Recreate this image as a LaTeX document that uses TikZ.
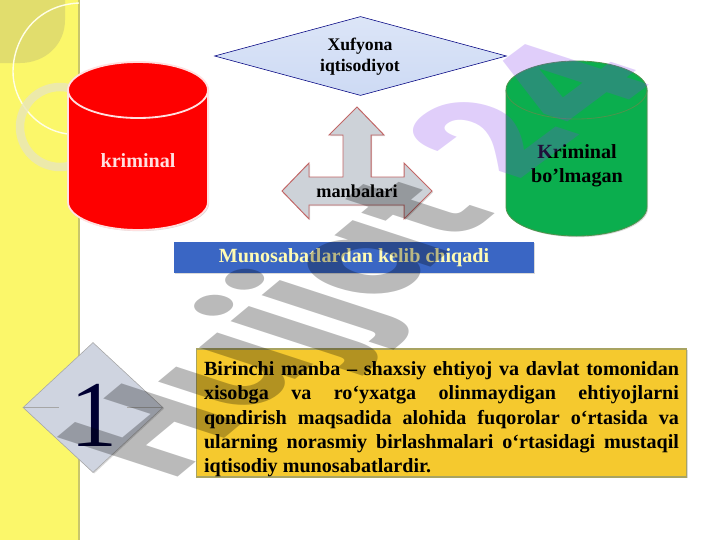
\documentclass[tikz,border=0pt]{standalone}
\usepackage{fontspec}
\setmainfont{Liberation Serif}
\newfontfamily\marksf{Poppins}
\usepackage{tikz}
\usetikzlibrary{shapes.geometric, shadows, positioning, calc}
\definecolor{sideyellow}{HTML}{FBF76A}
\definecolor{sideedge}{HTML}{C9C66A}
\definecolor{barblue}{HTML}{3A66C4}
\definecolor{goldbox}{HTML}{F5C92E}
\definecolor{cylgreen}{HTML}{0BAE4E}
\definecolor{cylred}{HTML}{FE0000}
\definecolor{diamblue}{HTML}{CDDAF4}
\definecolor{arrowgray}{HTML}{CDD2D8}
\definecolor{numgray}{HTML}{CFD4E0}
\definecolor{markviolet}{RGB}{130,60,235}
\tikzset{
  softshadow/.style={drop shadow={opacity=0.3, shadow xshift=0.8pt, shadow yshift=-0.8pt}},
  lbl/.style={font=\fontsize{12.6}{14.9}\selectfont\bfseries, align=center},
  cyllbl/.style={font=\fontsize{14.3}{17}\selectfont\bfseries, align=center},
}
\begin{document}
\begin{tikzpicture}[x=0.025cm, y=-0.025cm]
\useasboundingbox (0,0) rectangle (720,540);

% Side band
\fill[sideyellow] (0,0) rectangle (79,540);
\fill[sideedge] (78,0) rectangle (80,540);
\fill[olive!45!white, opacity=0.55] (0,0) -- (65,0) -- (65,20) .. controls (65,45) and (45,63) .. (20,63) -- (0,63) -- cycle;
\begin{scope}
\clip (0,0) rectangle (79,540);
\draw[white!90!yellow, line width=1pt] (79,3) .. controls (35,5) and (13,40) .. (13,72) .. controls (13,100) and (35,130) .. (68,134);
\draw[white!80!olive, line width=6pt, opacity=0.8] (60,127) circle (40);
\end{scope}

% Xufyona diamond
\node[draw=blue!50!black, diamond, aspect=3.7, top color=diamblue!70!white, bottom color=diamblue, minimum width=292*0.025cm, minimum height=79*0.025cm, inner sep=0pt] (xufyona) at (360.5,56) {};
\node[lbl] (xufyonatxt) at (360,57) {Xufyona\\iqtisodiyot};

% Cylinders
\filldraw[cylred, draw=red!12!white, line width=1.3pt, softshadow] (68,90) arc (180:360:70 and 28) -- (208,202) arc (0:180:70 and 28) -- cycle;
\draw[red!12!white, line width=1.3pt] (68,90) arc (180:0:70 and 28);
\node[cyllbl, text=white!88!red] (kriminal) at (138,161) {kriminal};

\filldraw[cylgreen, draw=green!40!black!70, line width=0.6pt, softshadow] (506,90) arc (180:360:70.5 and 29) -- (647,207) arc (0:180:70.5 and 29) -- cycle;
\draw[green!40!black!70, line width=0.6pt] (506,90) arc (180:0:70.5 and 29);
\node[cyllbl] (nokriminal) at (577,166) {Kriminal\\bo’lmagan};

% Three way arrow
\draw[draw=red!60!black!60, fill=arrowgray, line width=0.7pt, softshadow]
  (357,107) -- (384,135) -- (371,135) -- (371,177) -- (404,177) -- (404,163) -- (432,191)
  -- (404,219) -- (404,205) -- (309,205) -- (309,219) -- (282,191) -- (309,163) -- (309,177)
  -- (343,177) -- (343,135) -- (329,135) -- cycle;
\node[lbl, font=\fontsize{13}{15}\selectfont\bfseries] (manbalari) at (357,191) {manbalari};

% Blue bar
\node[fill=barblue, minimum width=360*0.025cm, minimum height=31*0.025cm, inner sep=0pt, softshadow, text=yellow!30!white, font=\fontsize{14.3}{16}\selectfont\bfseries] (munosabat) at (354,257.5) {Munosabatlardan kelib chiqadi};

% Numbered diamond
\node[diamond, aspect=1.08, draw=gray!70, fill=numgray, minimum width=140*0.025cm, minimum height=130*0.025cm, inner sep=0pt, softshadow] (numdiamond) at (93,407.5) {};
\draw[gray!70] (numdiamond.west) -- ++(36,0);
\draw[gray!70] (numdiamond.east) -- ++(-36,0);
\node[anchor=base, inner sep=0pt, font=\fontsize{67}{67}\selectfont, text=black!80!blue] (one) at (94,446) {1};

% Gold text box
\node[draw=olive!70!black!60, fill=goldbox, line width=0.8pt, minimum width=490*0.025cm, minimum height=128*0.025cm, inner sep=0pt, softshadow] (birinchi) at (441.5,413) {};
\node[text width=475*0.025cm, inner sep=0pt, align=justify, font=\fontsize{14.3}{17.3}\selectfont\bfseries] (birinchitxt) at (441.5,419.5) {\hyphenpenalty=10000 Birinchi manba – shaxsiy ehtiyoj va davlat tomonidan xisobga va ro‘yxatga olinmaydigan ehtiyojlarni qondirish maqsadida alohida fuqorolar o‘rtasida va ularning norasmiy birlashmalari o‘rtasidagi mustaqil iqtisodiy munosabatlardir.};

% Watermark
\begin{scope}[cm={0.756,0.628,-1.224,0.40,(171,483)}]
\node[transform shape, anchor=base west, inner sep=0pt, opacity=0.27, text=black, font=\fontsize{100}{100}\selectfont\marksf\bfseries] (markhujjat) at (0,0) {Hujjat};
\end{scope}
\begin{scope}[cm={0.83,0.62,-1.224,0.40,(518,183)}]
\node[transform shape, anchor=base west, inner sep=0pt, opacity=0.25, text=markviolet, font=\fontsize{100}{100}\selectfont\marksf\bfseries] (marknum) at (0,0) {24};
\end{scope}
\end{tikzpicture}
\end{document}
